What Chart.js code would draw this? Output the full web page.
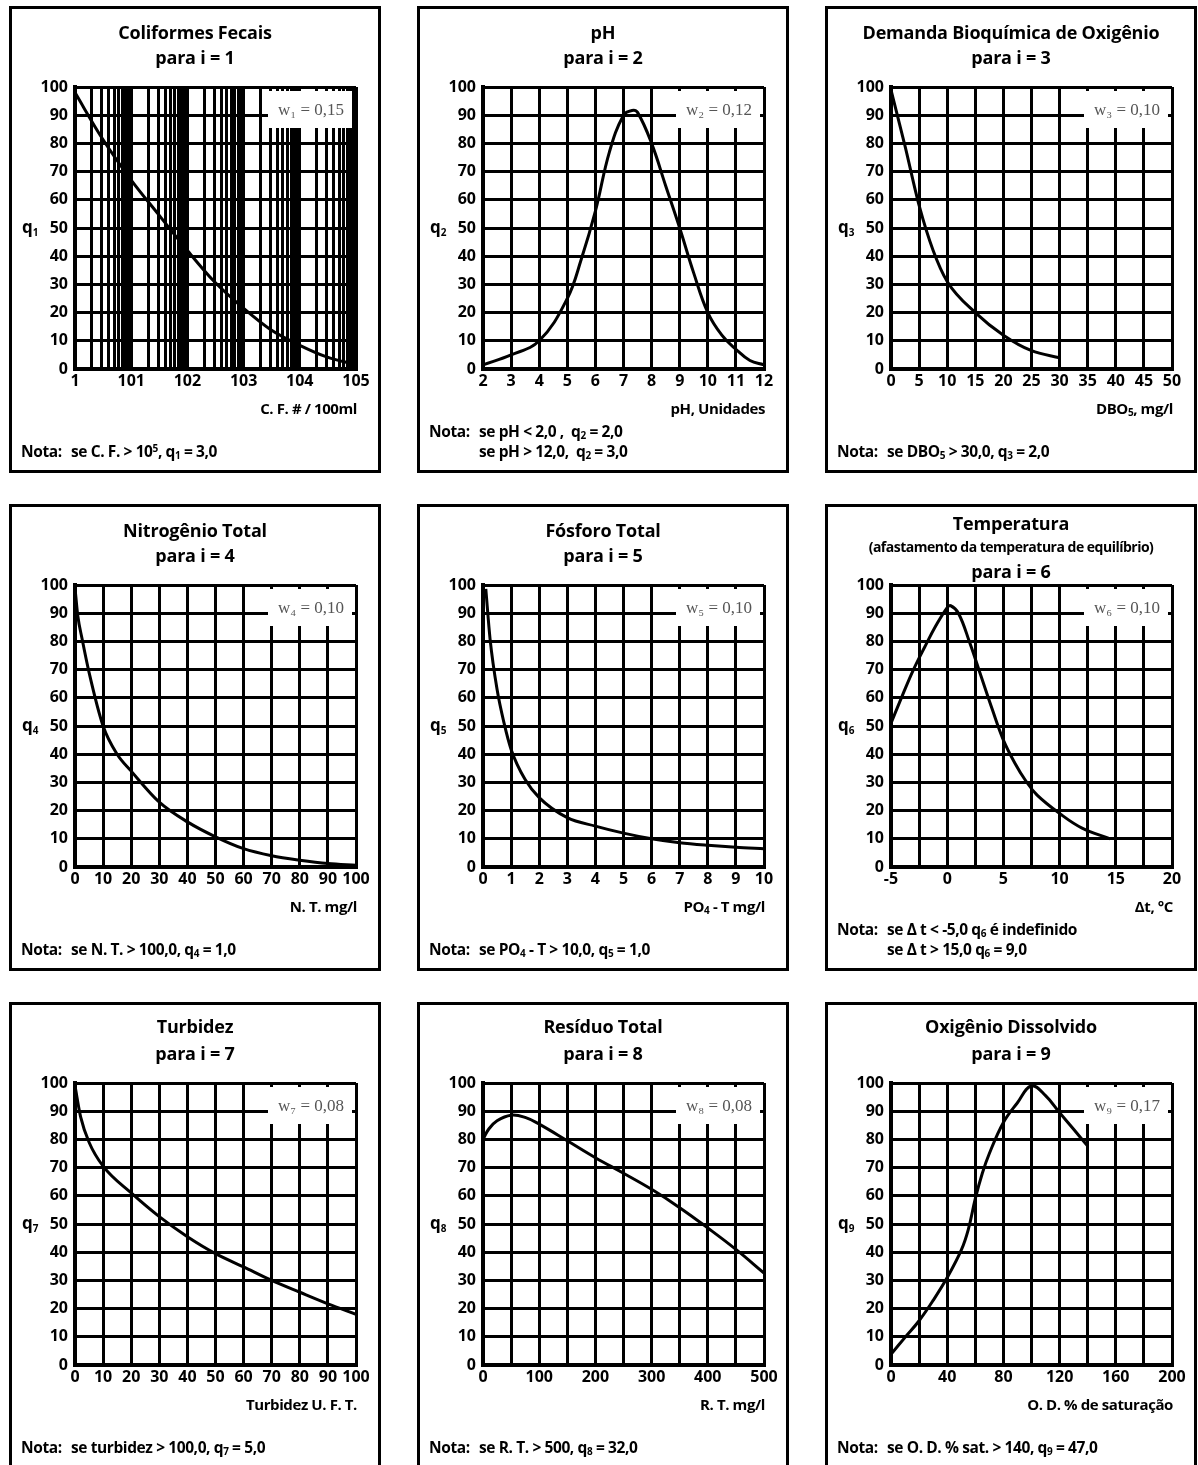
<!DOCTYPE html>
<html>
<head>
<meta charset="utf-8">
<script src="https://cdn.jsdelivr.net/npm/chart.js@4"></script>
<style>
  html, body { margin:0; padding:0; background:#fff; }
  body { width:1198px; height:1465px; position:relative; overflow:hidden; font-family:"Open Sans", sans-serif; color:#000; }
  .panel { position:absolute; width:372px; height:467px; border:3px solid #000; box-sizing:border-box; }
  .panel canvas { position:absolute; left:0; top:0; }
  .t { position:absolute; left:0; width:366px; text-align:center; font-weight:700; font-size:18px; letter-spacing:-0.2px; line-height:20px; white-space:nowrap; }
  .t.small { font-size:14px; letter-spacing:-0.5px; }
  .yl { position:absolute; left:10px; top:208px; font-weight:700; font-size:17px; line-height:20px; }
  .yl sub { font-size:10px; vertical-align:-3px; }
  .xt { position:absolute; right:21px; top:390px; font-weight:700; font-size:15px; letter-spacing:-0.4px; line-height:18px; white-space:nowrap; }
  .xt sub { font-size:10px; vertical-align:-2px; }
  .note { position:absolute; left:9px; font-weight:700; font-size:15.5px; letter-spacing:-0.4px; line-height:19px; white-space:nowrap; }
  .note .lab { display:inline-block; width:50px; }
  .note sub { font-size:10px; vertical-align:-2px; }
  .note sup { font-size:10px; vertical-align:5px; line-height:0; }
</style>
</head>
<body>
<script>
// ---------- DATA ----------
const yTicks = [0,10,20,30,40,50,60,70,80,90,100];

// 1 Coliformes Fecais (log x)
const cfX = [1, 3, 10, 30, 100, 300, 1000, 3000, 10000, 30000, 100000];
const cfY = [98, 82, 67, 55, 42, 31, 21.5, 14, 8.4, 4.3, 1.5];
const cfTickLabels = ['1','101','102','103','104','105'];
const cfTickValues = [1,10,100,1000,10000,100000];

// 2 pH
const phX = [2, 3, 4, 5, 5.5, 6, 6.5, 7, 7.3, 7.5, 8, 8.5, 9, 9.5, 10, 10.5, 11, 11.5, 12];
const phY = [1.5, 5, 10, 25, 39, 56, 77, 90, 91.7, 91, 80, 65, 50, 34, 20, 12, 7, 3, 1.5];
const phTicks = [2,3,4,5,6,7,8,9,10,11,12];

// 3 DBO
const dboX = [0, 1, 2.5, 5, 7.5, 10, 15, 20, 25, 30];
const dboY = [99, 91, 79, 58, 42, 31, 20, 12, 6.5, 4];
const dboTicks = [0,5,10,15,20,25,30,35,40,45,50];

// 4 Nitrogênio Total
const ntX = [0, 1, 2.5, 5, 10, 15, 20, 30, 40, 50, 60, 70, 80, 90, 100];
const ntY = [99, 89, 81, 69, 50, 40, 34, 23, 16, 10.7, 6.5, 4, 2.4, 1.2, 0.6];
const ntTicks = [0,10,20,30,40,50,60,70,80,90,100];

// 5 Fósforo Total
const ftX = [0.1, 0.25, 0.5, 0.75, 1, 1.5, 2, 3, 4, 5, 6, 7, 8, 9, 10];
const ftY = [98.6, 81, 63, 51, 41.7, 31, 24.6, 17.5, 14.5, 12, 10, 8.6, 7.7, 7, 6.5];
const ftTicks = [0,1,2,3,4,5,6,7,8,9,10];

// 6 Temperatura
const tpX = [-5, -4, -3, -2, -1, 0, 0.3, 1, 2, 3, 4, 5, 6, 7, 8, 10, 12, 14.5];
const tpY = [51, 60.7, 70, 78, 85.6, 92, 92.7, 90, 79.6, 67.8, 56, 45, 37, 30.5, 25.5, 19, 13.8, 10];
const tpGrid = [-5,-2.5,0,2.5,5,7.5,10,12.5,15,17.5,20];
const tpTicks = [-5,0,5,10,15,20];

// 7 Turbidez
const tbX = [0, 2, 5, 10, 20, 30, 40, 50, 60, 70, 80, 90, 100];
const tbY = [99, 88, 79, 70.5, 61, 52.6, 45.5, 39.5, 34.8, 30, 25.8, 21.7, 18];
const tbTicks = [0,10,20,30,40,50,60,70,80,90,100];

// 8 Resíduo Total
const rtX = [0, 10, 25, 50, 75, 100, 150, 200, 250, 300, 350, 400, 450, 500];
const rtY = [80, 83.6, 86.6, 88.6, 87.8, 85.4, 79.5, 73.5, 68, 62.3, 55.8, 48.6, 41, 32.6];
const rtGrid = [0,50,100,150,200,250,300,350,400,450,500];
const rtTicks = [0,100,200,300,400,500];

// 9 Oxigênio Dissolvido
const odX = [0, 10, 20, 30, 40, 50, 55, 60, 65, 70, 80, 90, 100, 110, 120, 130, 140];
const odY = [3.8, 9.8, 15.7, 22.9, 31, 40.7, 48, 59, 68, 75, 86, 93, 99, 95.5, 89.5, 83.6, 77.6];
const odGrid = [0,20,40,60,80,100,120,140,160,180,200];
const odTicks = [0,40,80,120,160,200];

// ---------- PANELS ----------
const colLeft = [9, 417, 825];
const rowTop = [6, 504, 1002];

const panels = [
  {title:['Coliformes Fecais','para i = 1'], q:'1', wt:'w\u2081 = 0,15', mono:true,
   xt:'C. F. # / 100ml', note:['<span class="lab">Nota:</span>se C. F. &gt; 10<sup>5</sup>, q<sub>1</sub> = 3,0'],
   x:cfX, y:cfY, type:'logarithmic', min:1, max:100000, grid:null, labels:cfTickValues, labelText:cfTickLabels},
  {title:['pH','para i = 2'], q:'2', wt:'w\u2082 = 0,12', mono:false,
   xt:'pH, Unidades', note:['<span class="lab">Nota:</span>se pH &lt; 2,0 ,&nbsp; q<sub>2</sub> = 2,0','<span class="lab"></span>se pH &gt; 12,0,&nbsp; q<sub>2</sub> = 3,0'],
   x:phX, y:phY, type:'linear', min:2, max:12, grid:phTicks, labels:phTicks},
  {title:['Demanda Bioquímica de Oxigênio','para i = 3'], q:'3', wt:'w\u2083 = 0,10', mono:true,
   xt:'DBO<sub>5</sub>, mg/l', note:['<span class="lab">Nota:</span>se DBO<sub>5</sub> &gt; 30,0, q<sub>3</sub> = 2,0'],
   x:dboX, y:dboY, type:'linear', min:0, max:50, grid:dboTicks, labels:dboTicks},
  {title:['Nitrogênio Total','para i = 4'], q:'4', wt:'w\u2084 = 0,10', mono:true,
   xt:'N. T. mg/l', note:['<span class="lab">Nota:</span>se N. T. &gt; 100,0, q<sub>4</sub> = 1,0'],
   x:ntX, y:ntY, type:'linear', min:0, max:100, grid:ntTicks, labels:ntTicks},
  {title:['Fósforo Total','para i = 5'], q:'5', wt:'w\u2085 = 0,10', mono:true,
   xt:'PO<sub>4</sub> - T mg/l', note:['<span class="lab">Nota:</span>se PO<sub>4</sub> - T &gt; 10,0, q<sub>5</sub> = 1,0'],
   x:ftX, y:ftY, type:'linear', min:0, max:10, grid:ftTicks, labels:ftTicks},
  {title:['Temperatura','(afastamento da temperatura de equilíbrio)','para i = 6'], q:'6', wt:'w\u2086 = 0,10', mono:false,
   xt:'Δt, °C', note:['<span class="lab">Nota:</span>se Δ t &lt; -5,0 q<sub>6</sub> é indefinido','<span class="lab"></span>se Δ t &gt; 15,0 q<sub>6</sub> = 9,0'],
   x:tpX, y:tpY, type:'linear', min:-5, max:20, grid:tpGrid, labels:tpTicks},
  {title:['Turbidez','para i = 7'], q:'7', wt:'w\u2087 = 0,08', mono:true,
   xt:'Turbidez U. F. T.', note:['<span class="lab">Nota:</span>se turbidez &gt; 100,0, q<sub>7</sub> = 5,0'],
   x:tbX, y:tbY, type:'linear', min:0, max:100, grid:tbTicks, labels:tbTicks},
  {title:['Resíduo Total','para i = 8'], q:'8', wt:'w\u2088 = 0,08', mono:false,
   xt:'R. T. mg/l', note:['<span class="lab">Nota:</span>se R. T. &gt; 500, q<sub>8</sub> = 32,0'],
   x:rtX, y:rtY, type:'linear', min:0, max:500, grid:rtGrid, labels:rtTicks},
  {title:['Oxigênio Dissolvido','para i = 9'], q:'9', wt:'w\u2089 = 0,17', mono:false,
   xt:'O. D. % de saturação', note:['<span class="lab">Nota:</span>se O. D. % sat. &gt; 140, q<sub>9</sub> = 47,0'],
   x:odX, y:odY, type:'linear', min:0, max:200, grid:odGrid, labels:odTicks}
];

// log minor grid for panel 1 (scale grid lines, not data)
(function(){
  const g = [];
  for (let e = 0; e < 5; e++) for (let s = 1; s < 10; s++) g.push(s * Math.pow(10, e));
  g.push(100000);
  panels[0].grid = g;
})();

const wBoxPlugin = {
  id: 'wbox',
  beforeDatasetsDraw(chart, args, opts) {
    const {ctx, chartArea:a} = chart;
    ctx.save();
    ctx.fillStyle = '#fff';
    ctx.fillRect(a.right - 88, a.top + 4, 84, 37);
    ctx.fillStyle = '#555';
    ctx.font = '17px "Liberation Serif", serif';
    ctx.textAlign = 'center';
    ctx.textBaseline = 'middle';
    ctx.fillText(opts.text, a.right - 45, a.top + 24);
    ctx.restore();
  }
};

const W = 366, H = 461;

panels.forEach((p, i) => {
  const div = document.createElement('div');
  div.className = 'panel';
  div.style.left = colLeft[i % 3] + 'px';
  div.style.top = rowTop[Math.floor(i / 3)] + 'px';
  if (i >= 6) div.style.height = '475px';
  document.body.appendChild(div);

  const cv = document.createElement('canvas');
  cv.width = W; cv.height = H;
  div.appendChild(cv);

  const tops = p.title.length === 3 ? [6, 30, 54] : (i >= 6 ? [11, 38] : [13, 38]);
  p.title.forEach((t, k) => {
    const d = document.createElement('div');
    d.className = 't' + (p.title.length === 3 && k === 1 ? ' small' : '');
    d.style.top = tops[k] + 'px';
    d.textContent = t;
    div.appendChild(d);
  });
  const yl = document.createElement('div');
  yl.className = 'yl';
  yl.innerHTML = 'q<sub>' + p.q + '</sub>';
  div.appendChild(yl);
  const xt = document.createElement('div');
  xt.className = 'xt';
  xt.innerHTML = p.xt;
  div.appendChild(xt);
  const noteTops = p.note.length === 2 ? [413, 433] : [433];
  p.note.forEach((n, k) => {
    const d = document.createElement('div');
    d.className = 'note';
    d.style.top = noteTops[k] + 'px';
    d.innerHTML = n;
    div.appendChild(d);
  });

  const pts = p.x.map((xv, k) => ({x: xv, y: p.y[k]}));
  const labelFor = (v) => {
    const idx = p.labels.findIndex(l => Math.abs(l - v) < 1e-9 * Math.max(1, Math.abs(l)));
    if (idx < 0) return '';
    return p.labelText ? p.labelText[idx] : String(p.labels[idx]);
  };

  const ds = { data: pts, borderColor: '#000', borderWidth: 3, pointRadius: 0, fill: false,
    tension: 0.4 };
  if (p.mono) ds.cubicInterpolationMode = 'monotone';

  new Chart(cv, {
    type: 'line',
    data: { datasets: [ds] },
    plugins: [wBoxPlugin],
    options: {
      responsive: false, animation: false, devicePixelRatio: 1,
      layout: { padding: { left: 0, top: 78, right: 22, bottom: 71 } },
      plugins: { legend: { display: false }, tooltip: { enabled: false }, wbox: { text: p.wt } },
      scales: {
        x: {
          type: p.type, min: p.min, max: p.max,
          afterBuildTicks: (s) => { s.ticks = p.grid.map(v => ({value: v})); },
          afterFit: (s) => { s.height = 30; },
          grid: { color: '#000', lineWidth: 3, drawTicks: false },
          border: { display: true, color: '#000', width: 4 },
          ticks: { autoSkip: false, maxRotation: 0, padding: 3, color: '#000',
            font: { family: 'Open Sans', weight: 'bold', size: 16 },
            callback: (v) => labelFor(v) }
        },
        y: {
          type: 'linear', min: 0, max: 100,
          afterBuildTicks: (s) => { s.ticks = yTicks.map(v => ({value: v})); },
          afterFit: (s) => { s.width = 63; },
          grid: { color: '#000', lineWidth: 3, drawTicks: false },
          border: { display: true, color: '#000', width: 4 },
          ticks: { padding: 7, color: '#000', font: { family: 'Open Sans', weight: 'bold', size: 16 },
            callback: (v) => String(v) }
        }
      }
    }
  });
});
</script>
</body>
</html>
